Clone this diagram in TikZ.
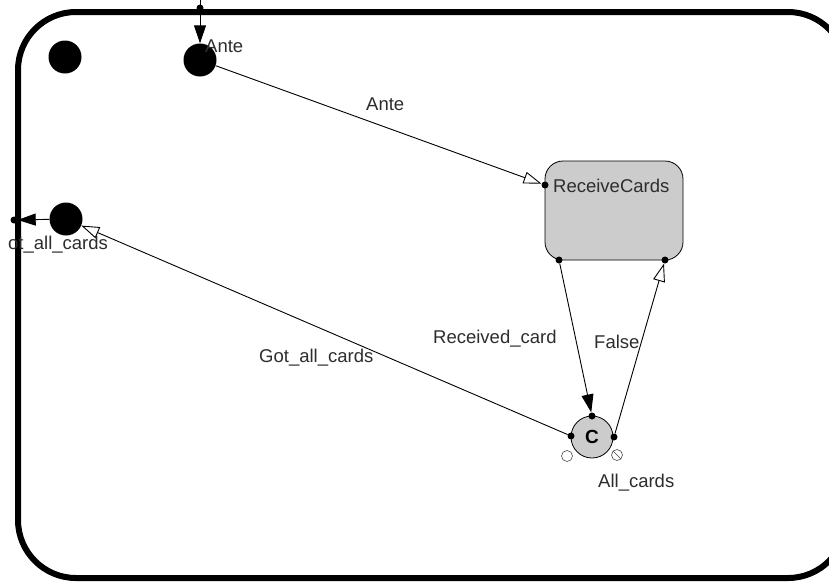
\documentclass[tikz,border=0pt]{standalone}
\usepackage{fontspec}
\setmainfont{Liberation Sans}
\usetikzlibrary{arrows.meta}
\definecolor{st}{RGB}{204,204,204}
\definecolor{tx}{RGB}{45,45,45}
\begin{document}
\begin{tikzpicture}[x=1pt,y=-1pt,
  lbl/.style={font=\fontsize{18.5}{20}\selectfont, text=tx, inner sep=0pt, anchor=base west},
  pseudo/.style={circle, fill=black, minimum size=33pt, inner sep=0pt},
  port/.style={circle, fill=black, minimum size=7pt, inner sep=0pt},
  hist/.style={circle, draw=black!70, fill=white, minimum size=11pt, inner sep=0pt, line width=0.6pt},
  ln/.style={line width=0.9pt},
  fa/.style={-{Triangle[length=18pt,width=12pt]}},
  oa/.style={-{Triangle[open,length=18pt,width=12pt,fill=white]}}]
\useasboundingbox (0,0) rectangle (829,582);
\fill[white] (0,0) rectangle (829,582);
\begin{scope}
\clip (0,0) rectangle (829,582);
\draw[line width=6pt, rounded corners=58pt] (18,12) rectangle (846,578);
\end{scope}
% states
\node[pseudo] (init) at (65,57) {};
\node[pseudo] (ante) at (200,60) {};
\node[pseudo] (exit) at (66,219) {};
\node[draw, fill=st, rounded corners=18pt, minimum width=138pt, minimum height=99pt, inner sep=0pt, line width=0.8pt] (rc) at (614,210.5) {};
\node[lbl] (rct) at (553,192) {ReceiveCards};
\node[circle, draw, fill=st, minimum size=42pt, inner sep=0pt, line width=0.8pt, font=\bfseries\fontsize{19}{20}\selectfont] (c) at (592,437) {C};
% ports
\coordinate (tp) at (200,0);
\node[port] (d0) at (200,8) {};
\node[port] (dx) at (14,220) {};
\node[port] (rin) at (545,185) {};
\node[port] (rl) at (559,260) {};
\node[port] (rr) at (665,260) {};
\node[port] (ct) at (592,416) {};
\node[port] (cl) at (571,436) {};
\node[port] (cr) at (614,437) {};
\node[hist] (h1) at (567,456) {};
\node[hist] (h2) at (617,455) {};
\draw[black!70, line width=0.6pt] (h2.north west) -- (h2.south east);
% connectors
\draw[ln,fa] (tp) -- (ante);
\draw[ln,oa] (ante) -- (rin);
\draw[ln,fa] (rl) -- (ct);
\draw[ln,oa] (cr) -- (rr);
\draw[ln,oa] (cl) -- (exit);
\draw[ln,fa] (exit) -- (dx);
% labels
\node[lbl] (l1) at (205,52) {Ante};
\node[lbl] (l2) at (366,110) {Ante};
\node[lbl] (l3) at (8,249) {ot\_all\_cards};
\node[lbl] (l4) at (259,362) {Got\_all\_cards};
\node[lbl] (l5) at (433,343) {Received\_card};
\node[lbl] (l6) at (594,348) {False};
\node[lbl] (l7) at (598,487) {All\_cards};
\end{tikzpicture}
\end{document}
